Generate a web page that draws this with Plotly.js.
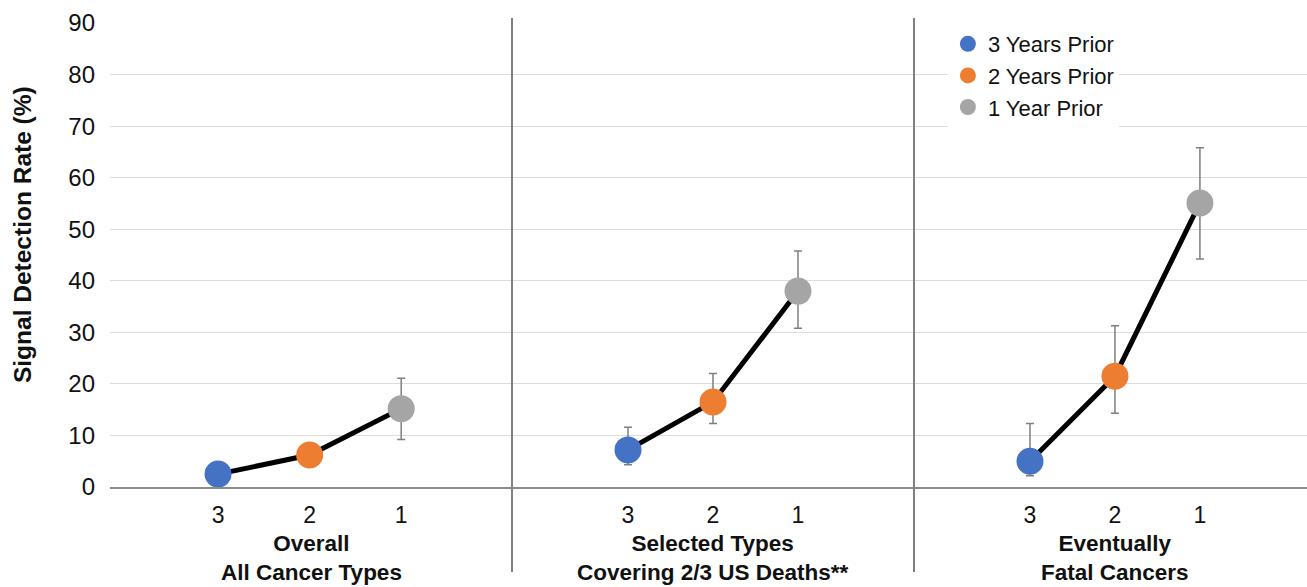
<!DOCTYPE html>
<html>
<head>
<meta charset="utf-8">
<script src="https://cdn.plot.ly/plotly-3.0.1.min.js"></script>
<style>html,body{margin:0;padding:0;background:#fff;overflow:hidden;}#chart{width:1307px;height:587px;}</style>
</head>
<body>
<div id="chart"></div>
<script>
// ---- data ----
const categories = ['3', '2', '1'];
const seriesNames = ['3 Years Prior', '2 Years Prior', '1 Year Prior'];
const groupLabels = ['Overall<br>All Cancer Types', 'Selected Types<br>Covering 2/3 US Deaths**', 'Eventually<br>Fatal Cancers'];
const rateOverall  = [2.5, 6.2, 15.2];
const rateSelected = [7.2, 16.5, 38.0];
const rateFatal    = [5.0, 21.5, 55.1];
const lowOverall   = [1.6, 4.6, 9.2];
const lowSelected  = [4.3, 12.3, 30.8];
const lowFatal     = [2.2, 14.3, 44.2];
const highOverall  = [3.6, 8.0, 21.1];
const highSelected = [11.6, 22.0, 45.8];
const highFatal    = [12.3, 31.3, 65.8];
const yTickVals = [0, 10, 20, 30, 40, 50, 60, 70, 80, 90];

// ---- styling ----
const colors = ['#4472C4', '#ED7D31', '#A5A5A5'];
const FONT = 'Liberation Sans, Arial, Helvetica, sans-serif';
const panels = [
  {rate: rateOverall, low: lowOverall, high: highOverall, xa: 'x'},
  {rate: rateSelected, low: lowSelected, high: highSelected, xa: 'x2'},
  {rate: rateFatal, low: lowFatal, high: highFatal, xa: 'x3'}
];

const traces = [];
panels.forEach((p, pi) => {
  traces.push({
    type: 'scatter', mode: 'lines', x: categories, y: p.rate,
    xaxis: p.xa, yaxis: 'y', line: {color: '#000', width: 5},
    showlegend: false, hoverinfo: 'skip'
  });
  categories.forEach((c, i) => {
    traces.push({
      type: 'scatter', mode: 'markers', x: [c], y: [p.rate[i]],
      xaxis: p.xa, yaxis: 'y', name: seriesNames[i],
      showlegend: pi === 0,
      marker: {color: colors[i], size: 27},
      error_y: {type: 'data', symmetric: false,
        array: [p.high[i] - p.rate[i]], arrayminus: [p.rate[i] - p.low[i]],
        color: '#7f7f7f', thickness: 1.5, width: 4}
    });
  });
});

const plotW = 1197;
const d1 = 402 / plotW, d2 = 804 / plotW;
const xBase = {
  type: 'category', categoryorder: 'array', categoryarray: categories,
  showline: true, linecolor: '#8c8c8c', linewidth: 2, showgrid: false, zeroline: false,
  ticks: '', ticklabelstandoff: 6, tickfont: {family: FONT, size: 23, color: '#111'},
  anchor: 'y', fixedrange: true
};

const layout = {
  width: 1307, height: 587,
  margin: {l: 110, r: 0, t: 23, b: 100, pad: 0},
  paper_bgcolor: '#fff', plot_bgcolor: '#fff',
  font: {family: FONT, color: '#111'},
  showlegend: true,
  legend: {x: 0.70, y: 1.0, xanchor: 'left', yanchor: 'top', bgcolor: '#fff',
    font: {family: FONT, size: 22, color: '#111'}, tracegroupgap: 0, itemclick: false},
  xaxis: Object.assign({}, xBase, {domain: [0, d1], range: [-1.18, 3.21]}),
  xaxis2: Object.assign({}, xBase, {domain: [d1, d2], range: [-1.365, 3.365]}),
  xaxis3: Object.assign({}, xBase, {domain: [d2, 1], range: [-1.365, 3.26]}),
  yaxis: {range: [0, 90], tickvals: yTickVals, showgrid: true, gridcolor: '#dcdcdc', gridwidth: 1,
    zeroline: false, showline: false, ticks: '', ticklabelstandoff: 14,
    tickfont: {family: FONT, size: 24, color: '#111'}, anchor: 'x', fixedrange: true},
  shapes: [d1, d2].map(xv => ({type: 'line', xref: 'paper', yref: 'paper',
    x0: xv, x1: xv, y0: -0.183, y1: 1.011, line: {color: '#808080', width: 2}})),
  annotations: [
    ...groupLabels.map((g, i) => ({
      text: '<b>' + g + '</b>', xref: 'paper', yref: 'paper',
      x: [(0 + d1) / 2, (d1 + d2) / 2, (d2 + (1206 / plotW)) / 2][i], y: -0.153,
      xanchor: 'center', yanchor: 'middle', showarrow: false,
      font: {family: FONT, size: 22.5, color: '#111'}
    })),
    {text: '<b>Signal Detection Rate (%)</b>', xref: 'paper', yref: 'paper',
     x: -0.0735, y: 0.543, textangle: -90, xanchor: 'center', yanchor: 'middle',
     showarrow: false, font: {family: FONT, size: 24.5, color: '#111'}}
  ]
};

Plotly.newPlot('chart', traces, layout, {displayModeBar: false, staticPlot: true});
</script>
</body>
</html>
